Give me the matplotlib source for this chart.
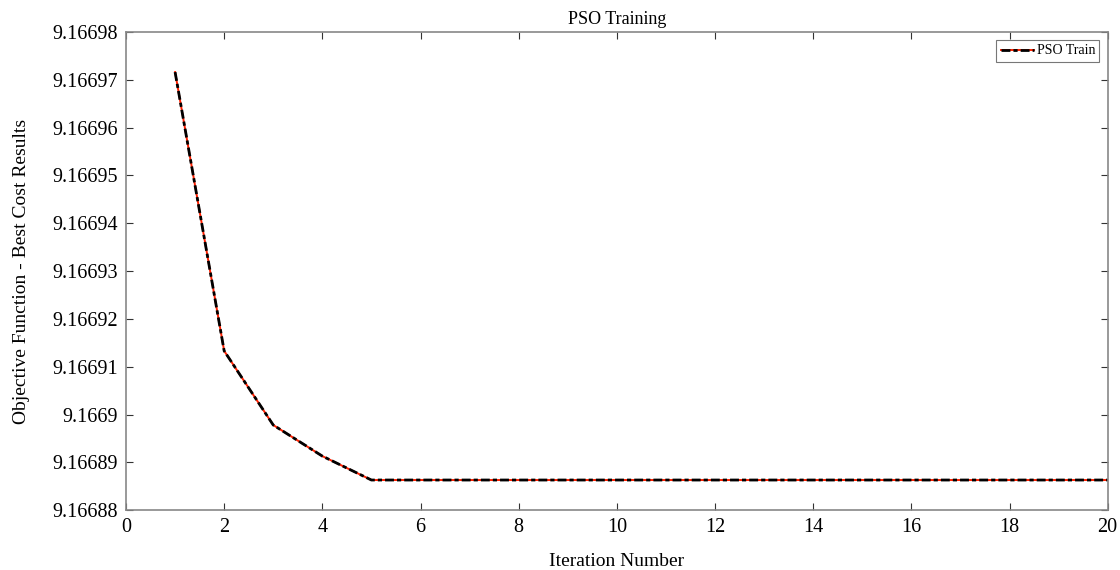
import matplotlib
matplotlib.use("Agg")
import matplotlib.pyplot as plt
from matplotlib.ticker import FuncFormatter
from matplotlib.lines import Line2D

iterations = list(range(1, 21))
best_cost = [9.1669716, 9.1669133, 9.1668978, 9.1668913, 9.1668863] + [9.1668863] * 15
xticks = list(range(0, 21, 2))
yticks = [9.16688 + i * 0.00001 for i in range(11)]

plt.rcParams['font.family'] = ['Liberation Serif', 'DejaVu Serif']

fig = plt.figure(figsize=(11.2, 5.7), dpi=100)
ax = fig.add_axes([0.1125, 0.105, 0.8765, 0.839])

DASH = (3.2, 1.1, 1.5, 1.1)
ax.plot(iterations, best_cost, color='#ff2000', linestyle='-', linewidth=1.4)
ax.plot(iterations, best_cost, color='black', linewidth=2.0, dashes=DASH)

ax.set_xlim(0, 20)
ax.set_ylim(9.16688, 9.16698)
ax.set_xticks(xticks)
ax.set_yticks(yticks)
ax.yaxis.set_major_formatter(FuncFormatter(lambda v, p: ('%.5f' % v).rstrip('0')))
ax.tick_params(direction='in', top=True, right=True, labelsize=14.5, length=5, color='#333333', pad=6)
for s in ax.spines.values():
    s.set_color('#888888')
    s.set_linewidth(1.2)

ax.set_title('PSO Training', fontsize=13, pad=6)
ax.set_xlabel('Iteration Number', fontsize=14, labelpad=11)
ax.set_ylabel('Objective Function - Best Cost Results', fontsize=14, labelpad=16)

handle = (Line2D([], [], color='#ff2000', linestyle='-', linewidth=1.4),
          Line2D([], [], color='black', linewidth=2.0, dashes=DASH))
leg = ax.legend([handle], ['PSO Train'], loc='upper right', fontsize=10, frameon=True,
                fancybox=False, edgecolor='#555555', handlelength=2.4, borderpad=0.3,
                handletextpad=0.2, borderaxespad=0.6)
leg.get_frame().set_linewidth(0.8)

fig.savefig('out.png', dpi=100)
